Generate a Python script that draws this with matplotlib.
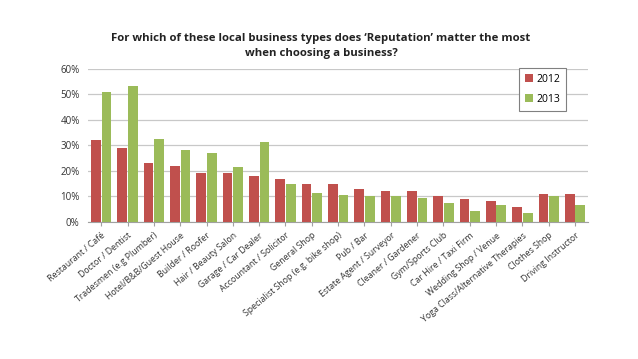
import matplotlib
matplotlib.use("Agg")
import matplotlib.pyplot as plt
import numpy as np
from matplotlib.ticker import PercentFormatter

categories = ["Restaurant / Café", "Doctor / Dentist", "Tradesmen (e.g Plumber)",
              "Hotel/B&B/Guest House", "Builder / Roofer", "Hair / Beauty Salon",
              "Garage / Car Dealer", "Accountant / Solicitor", "General Shop",
              "Specialist Shop (e.g. bike shop)", "Pub / Bar", "Estate Agent / Surveyor",
              "Cleaner / Gardener", "Gym/Sports Club", "Car Hire / Taxi Firm",
              "Wedding Shop / Venue", "Yoga Class/Alternative Therapies",
              "Clothes Shop", "Driving Instructor"]
y2012 = [32, 29, 23, 22, 19, 19, 18, 17, 15, 15, 13, 12, 12, 10, 9, 8, 6, 11, 11]
y2013 = [51, 53.3, 32.7, 28, 27.2, 21.6, 31.2, 15, 11.5, 10.6, 10.1, 10.3, 9.2, 7.5, 4.4, 6.8, 3.3, 10.1, 6.7]

plt.rcParams['font.family'] = ['Open Sans', 'DejaVu Sans']

fig = plt.figure(figsize=(6.38, 3.59), dpi=100)
ax = fig.add_axes([0.138, 0.382, 0.784, 0.426])

x = np.arange(len(categories))
w = 0.37
ax.bar(x - 0.2, y2012, w, color="#C0504D", label="2012", zorder=3)
ax.bar(x + 0.2, y2013, w, color="#9BBB59", label="2013", zorder=3)

ax.set_xlim(-0.5, len(categories) - 0.5)
ax.set_ylim(0, 60)
ax.set_yticks(range(0, 61, 10))
ax.yaxis.set_major_formatter(PercentFormatter(decimals=0))
ax.grid(axis='y', color="#C8C8C8", linewidth=0.9, zorder=0)
for s in ["top", "right", "left"]:
    ax.spines[s].set_visible(False)
ax.spines["bottom"].set_color("#A0A0A0")
ax.tick_params(axis='y', length=0, labelsize=7, colors="#333333", pad=6)
ax.tick_params(axis='x', length=3, color="#A0A0A0", labelsize=6.3, colors="#333333")
ax.set_xticks(x)
ax.set_xticklabels(categories, rotation=40, ha='right', rotation_mode='anchor')

fig.suptitle("For which of these local business types does \u2018Reputation\u2019 matter the most\nwhen choosing a business?",
             x=0.503, y=0.908, fontsize=8.2, fontweight='bold', color="#222222", linespacing=1.55)

leg = ax.legend(loc='upper right', bbox_to_anchor=(0.962, 1.025), fontsize=7.5,
                handlelength=0.8, handleheight=0.8, fancybox=False, framealpha=1,
                edgecolor="#808080", borderpad=0.55, labelspacing=0.85, handletextpad=0.3,
                borderaxespad=0.3)
leg.get_frame().set_linewidth(0.8)

fig.savefig("out.png", dpi=100)
